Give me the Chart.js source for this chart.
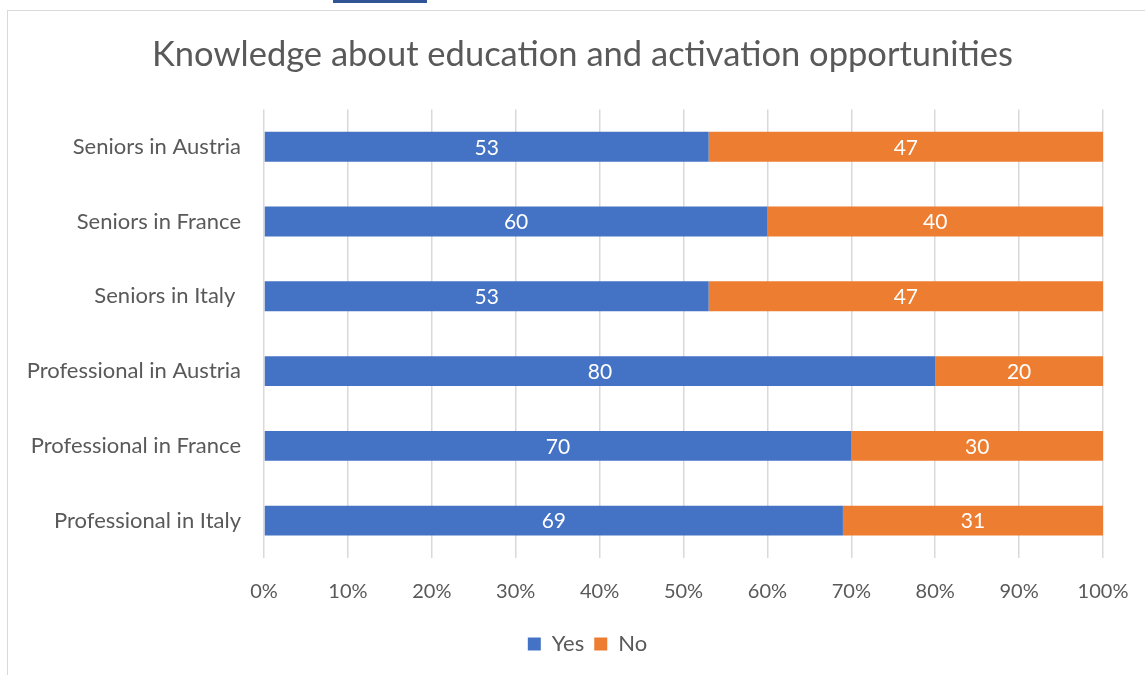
<!DOCTYPE html>
<html>
<head>
<meta charset="utf-8">
<script src="https://cdn.jsdelivr.net/npm/chart.js@4"></script>
<style>
html,body{margin:0;padding:0;background:#fff;overflow:hidden}
#wrap{position:relative;width:1145px;height:675px}
#frame{position:absolute;left:7px;top:10px;width:1200px;height:700px;border-left:1px solid #d9d9d9;border-top:1px solid #d9d9d9}
#tab{position:absolute;left:333px;top:0;width:94px;height:3px;background:#2f5597}
canvas{position:absolute;left:0;top:0}
</style>
</head>
<body>
<div id="wrap">
<div id="frame"></div>
<div id="tab"></div>
<canvas id="chart" width="1145" height="675"></canvas>
</div>
<script>
const TITLE="Knowledge about education and activation opportunities";
const groups=["Seniors in Austria","Seniors in France","Seniors in Italy ","Professional in Austria","Professional in France","Professional in Italy"];
const yes=[53,60,53,80,70,69];
const no=[47,40,47,20,30,31];
const xTicks=[0,10,20,30,40,50,60,70,80,90,100];

const FONT="Lato, 'Open Sans', sans-serif";
const GREY="#595959";

// white value text in the middle of every bar segment
const barLabels={
  id:"barLabels",
  afterDatasetsDraw(chart){
    const ctx=chart.ctx;
    ctx.save();
    ctx.fillStyle="#fff";
    ctx.font="21px "+FONT;
    ctx.textAlign="center";
    ctx.textBaseline="middle";
    chart.data.datasets.forEach((ds,i)=>{
      chart.getDatasetMeta(i).data.forEach((bar,j)=>{
        const cx=(bar.x+bar.base)/2;
        ctx.fillText(String(ds.data[j]),cx,bar.y+1);
      });
    });
    ctx.restore();
  }
};

// title and legend sit centred over the whole frame, not the plot
const nudge={
  id:"nudge",
  afterLayout(chart){
    const t=chart.titleBlock, l=chart.legend;
    if(t){t.left+=31;t.right+=31;}
    if(l){l.left+=36;l.right+=36;}
  }
};

new Chart(document.getElementById("chart"),{
  type:"bar",
  data:{
    labels:groups,
    datasets:[
      {label:"Yes",data:yes,backgroundColor:"#4472c4"},
      {label:"No",data:no,backgroundColor:"#ed7d31"}
    ]
  },
  options:{
    indexAxis:"y",
    responsive:false,
    animation:false,
    events:[],
    layout:{padding:{top:10,right:42,bottom:10,left:0}},
    datasets:{bar:{categoryPercentage:1,barPercentage:0.4,borderWidth:0}},
    scales:{
      x:{
        stacked:true,min:0,max:100,
        afterBuildTicks(s){s.ticks=xTicks.map(v=>({value:v}));},
        afterFit(s){s.height=65;s.paddingLeft=0;s.paddingRight=0;},
        grid:{color:"#d9d9d9",lineWidth:1.5,drawTicks:false},
        border:{display:false},
        ticks:{color:GREY,font:{family:FONT,size:20},padding:22,callback:v=>v+"%",maxRotation:0}
      },
      y:{
        stacked:true,
        afterFit(s){s.width=264;},
        grid:{display:false,drawTicks:false},
        border:{display:false},
        ticks:{color:GREY,font:{family:FONT,size:22},padding:23}
      }
    },
    plugins:{
      title:{display:true,text:TITLE,color:GREY,font:{family:FONT,size:34.5,weight:"normal"},padding:{top:24,bottom:34}},
      legend:{position:"bottom",labels:{color:GREY,font:{family:FONT,size:22},boxWidth:13,boxHeight:13,padding:10}},
      tooltip:{enabled:false}
    }
  },
  plugins:[barLabels,nudge]
});
</script>
</body>
</html>
